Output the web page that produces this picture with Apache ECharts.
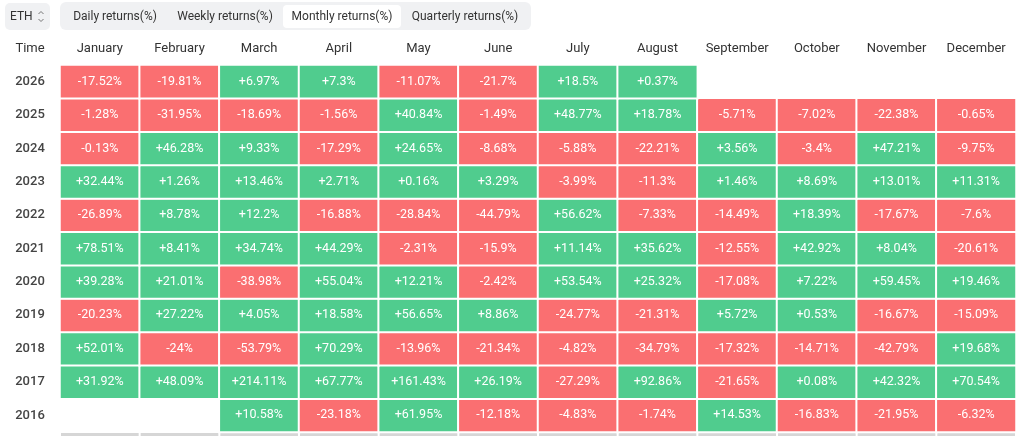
<!DOCTYPE html>
<html>
<head>
<meta charset="utf-8">
<script src="https://cdn.jsdelivr.net/npm/echarts@6/dist/echarts.min.js"></script>
<style>
html,body{margin:0;padding:0;background:#fff;}
#main{width:1024px;height:436px;}
</style>
</head>
<body>
<div id="main"></div>
<script>
const months = ['January','February','March','April','May','June','July','August','September','October','November','December'];
const years = ['2016','2017','2018','2019','2020','2021','2022','2023','2024','2025','2026'];
const r2026 = [-17.52, -19.81, 6.97, 7.3, -11.07, -21.7, 18.5, 0.37, null, null, null, null];
const r2025 = [-1.28, -31.95, -18.69, -1.56, 40.84, -1.49, 48.77, 18.78, -5.71, -7.02, -22.38, -0.65];
const r2024 = [-0.13, 46.28, 9.33, -17.29, 24.65, -8.68, -5.88, -22.21, 3.56, -3.4, 47.21, -9.75];
const r2023 = [32.44, 1.26, 13.46, 2.71, 0.16, 3.29, -3.99, -11.3, 1.46, 8.69, 13.01, 11.31];
const r2022 = [-26.89, 8.78, 12.2, -16.88, -28.84, -44.79, 56.62, -7.33, -14.49, 18.39, -17.67, -7.6];
const r2021 = [78.51, 8.41, 34.74, 44.29, -2.31, -15.9, 11.14, 35.62, -12.55, 42.92, 8.04, -20.61];
const r2020 = [39.28, 21.01, -38.98, 55.04, 12.21, -2.42, 53.54, 25.32, -17.08, 7.22, 59.45, 19.46];
const r2019 = [-20.23, 27.22, 4.05, 18.58, 56.65, 8.86, -24.77, -21.31, 5.72, 0.53, -16.67, -15.09];
const r2018 = [52.01, -24, -53.79, 70.29, -13.96, -21.34, -4.82, -34.79, -17.32, -14.71, -42.79, 19.68];
const r2017 = [31.92, 48.09, 214.11, 67.77, 161.43, 26.19, -27.29, 92.86, -21.65, 0.08, 42.32, 70.54];
const r2016 = [null, null, 10.58, -23.18, 61.95, -12.18, -4.83, -1.74, 14.53, -16.83, -21.95, -6.32];
const tabs = ['Daily returns(%)', 'Weekly returns(%)', 'Monthly returns(%)', 'Quarterly returns(%)'];

const rows = [r2016, r2017, r2018, r2019, r2020, r2021, r2022, r2023, r2024, r2025, r2026];
const data = [];
rows.forEach((row, yi) => {
  row.forEach((v, mi) => { if (v !== null) data.push([mi, yi, v]); });
});

const RED = '#fa6f71', GREEN = '#50cc8e';
const FONT = 'Roboto, "Noto Sans", sans-serif';

const chart = echarts.init(document.getElementById('main'), null, {renderer: 'canvas'});

const tabX = [115, 225, 342, 465];
const graphics = [
  {type: 'rect', shape: {x: 5, y: 3, width: 45, height: 27, r: 5}, style: {fill: '#f0f1f3'}},
  {type: 'text', style: {text: 'ETH', x: 10, y: 16.5, fill: '#333', font: '12px ' + FONT, verticalAlign: 'middle'}},
  {type: 'polyline', shape: {points: [[38.5, 14], [41, 11.5], [43.5, 14]]}, style: {stroke: '#777', lineWidth: 1, fill: null}},
  {type: 'polyline', shape: {points: [[38.5, 19], [41, 21.5], [43.5, 19]]}, style: {stroke: '#777', lineWidth: 1, fill: null}},
  {type: 'rect', shape: {x: 60, y: 2, width: 471, height: 28, r: 6}, style: {fill: '#f0f1f3'}},
  {type: 'rect', shape: {x: 283, y: 5, width: 118, height: 23, r: 4}, style: {fill: '#ffffff'}},
  {type: 'text', style: {text: 'Time', x: 30, y: 48.5, fill: '#333', font: '13px ' + FONT, align: 'center', verticalAlign: 'middle'}}
];
tabs.forEach((t, i) => {
  graphics.push({type: 'text', style: {text: t, x: tabX[i], y: 16.5, fill: '#333', font: '12px ' + FONT, align: 'center', verticalAlign: 'middle'}});
});

chart.setOption({
  animation: false,
  backgroundColor: '#fff',
  grid: {left: 60, right: 8, top: 65, bottom: 4},
  xAxis: {
    type: 'category', position: 'top', data: months,
    axisLine: {show: false}, axisTick: {show: false}, splitLine: {show: false},
    axisLabel: {color: '#333', fontSize: 13, fontFamily: FONT, margin: 10, interval: 0}
  },
  yAxis: {
    type: 'category', data: years,
    axisLine: {show: false}, axisTick: {show: false}, splitLine: {show: false},
    axisLabel: {color: '#444', fontSize: 13, fontFamily: FONT, fontWeight: 500, align: 'center', margin: 30}
  },
  visualMap: {
    show: false, type: 'piecewise', dimension: 2,
    pieces: [{lt: 0, color: RED}, {gte: 0, color: GREEN}]
  },
  series: [{
    type: 'heatmap',
    data: data,
    itemStyle: {borderColor: '#fff', borderWidth: 2},
    label: {
      show: true, color: '#fff', fontSize: 12.5, fontFamily: FONT,
      formatter: p => (p.value[2] > 0 ? '+' : '') + p.value[2] + '%'
    },
    emphasis: {disabled: true}
  }],
  graphic: graphics
});

// light gray border segments under the last row, one per column
const segs = months.map((m, i) => {
  const a = chart.convertToPixel({gridIndex: 0}, [i, 0]);
  const half = (chart.convertToPixel({gridIndex: 0}, [1, 0])[0] - chart.convertToPixel({gridIndex: 0}, [0, 0])[0]) / 2;
  return {type: 'rect', shape: {x: a[0] - half + 1, y: 433, width: half * 2 - 2, height: 3}, style: {fill: '#d6d6d6'}};
});
chart.setOption({graphic: graphics.concat(segs)});
</script>
</body>
</html>
